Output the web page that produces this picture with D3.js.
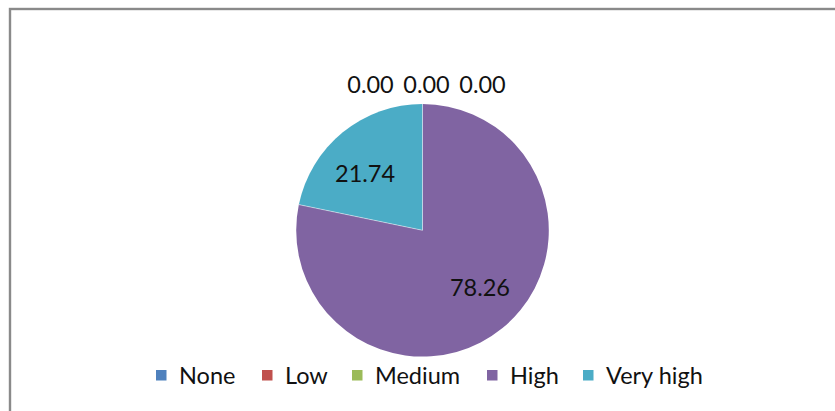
<!DOCTYPE html>
<html>
<head>
<meta charset="utf-8">
<script src="https://cdn.jsdelivr.net/npm/d3@7"></script>
<style>
  html, body { margin: 0; padding: 0; background: #fff; }
  svg { display: block; font-family: Lato, "Open Sans", sans-serif; }
</style>
</head>
<body>
<svg id="chart" width="835" height="411"></svg>
<script>
// Risk level shares (percent)
const categories = ["None", "Low", "Medium", "High", "Very high"];
const values = [0.00, 0.00, 0.00, 78.26, 21.74];
const colors = ["#4F81BD", "#C0504D", "#9BBB59", "#8064A2", "#4BACC6"];

const svg = d3.select("#chart");
const W = 835, H = 411;

// outer chart frame (open on the right and bottom)
svg.append("rect")
  .attr("x", 10).attr("y", 9)
  .attr("width", W + 20).attr("height", H + 20)
  .attr("fill", "#fff")
  .attr("stroke", "#8a8a8a")
  .attr("stroke-width", 2.4);

const cx = 422.5, cy = 230.3, r = 126.3;
const data = categories.map((c, i) => ({ name: c, value: values[i], color: colors[i] }));

const pie = d3.pie().value(d => d.value).sort(null);
const arcs = pie(data);
const arc = d3.arc().innerRadius(0).outerRadius(r);

const g = svg.append("g").attr("transform", `translate(${cx},${cy})`);

g.selectAll("path.slice")
  .data(arcs.filter(a => a.value > 0))
  .join("path")
  .attr("class", "slice")
  .attr("d", arc)
  .attr("fill", d => d.data.color);

// thin white separators between slices
g.selectAll("path.sep")
  .data(arcs.filter(a => a.value > 0))
  .join("path")
  .attr("class", "sep")
  .attr("d", d => {
    const a = d.startAngle;
    return `M0,0L${r * Math.sin(a)},${-r * Math.cos(a)}`;
  })
  .attr("stroke", "#fff")
  .attr("stroke-width", 0.8)
  .attr("stroke-opacity", 0.6);

const fs = 23.5;
// labels for visible slices, placed inside each slice
const labelR = 81, labelShift = -6 * Math.PI / 180;
g.selectAll("text.val")
  .data(arcs.filter(a => a.value > 0))
  .join("text")
  .attr("class", "val")
  .attr("transform", d => {
    const a = (d.startAngle + d.endAngle) / 2 + labelShift;
    return `translate(${labelR * Math.sin(a)},${-labelR * Math.cos(a)})`;
  })
  .attr("text-anchor", "middle")
  .attr("dy", "0.36em")
  .attr("font-size", fs)
  .attr("fill", "#111")
  .text(d => d.data.value.toFixed(2));

// zero-size slices: labels lined up above the top of the pie
const zeros = arcs.filter(a => a.value === 0);
const zStep = 56;
g.selectAll("text.zero")
  .data(zeros)
  .join("text")
  .attr("class", "zero")
  .attr("x", (d, i) => (i - (zeros.length - 1) / 2) * zStep + 4)
  .attr("y", -r - 19.5)
  .attr("text-anchor", "middle")
  .attr("dy", "0.36em")
  .attr("font-size", fs)
  .attr("fill", "#111")
  .text(d => d.data.value.toFixed(2));

// legend
const legendX = [156, 262, 352, 487, 583];
const lg = svg.append("g").attr("transform", "translate(0,376)");
const items = lg.selectAll("g.item")
  .data(data)
  .join("g")
  .attr("class", "item")
  .attr("transform", (d, i) => `translate(${legendX[i]},0)`);
items.append("rect")
  .attr("x", 0).attr("y", -6)
  .attr("width", 10.5).attr("height", 10.5)
  .attr("fill", d => d.color);
items.append("text")
  .attr("x", 23).attr("y", 0)
  .attr("dy", "0.36em")
  .attr("font-size", fs)
  .attr("fill", "#111")
  .text(d => d.name);
</script>
</body>
</html>
